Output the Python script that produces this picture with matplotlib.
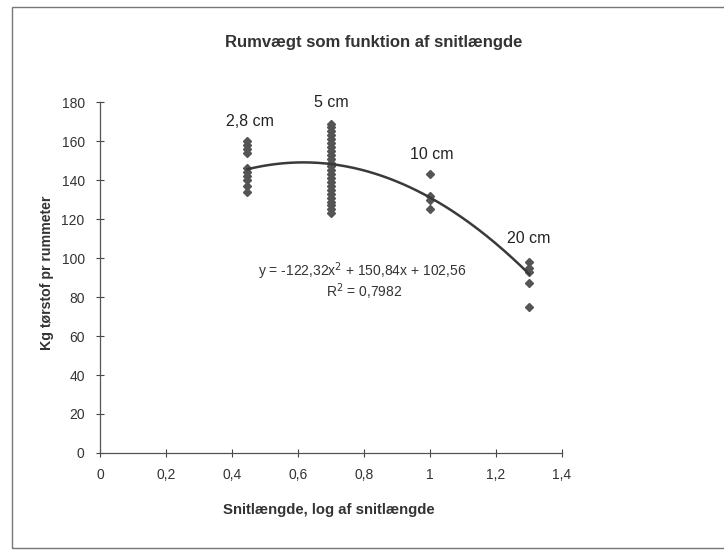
import matplotlib
matplotlib.use("Agg")
import matplotlib.pyplot as plt
import numpy as np
from matplotlib.patches import Rectangle

# log10 of cut length, one group per cut length
x_groups = [0.447, 0.699, 1.0, 1.301]
group_labels = ["2,8 cm", "5 cm", "10 cm", "20 cm"]
y_28 = [160, 158, 156, 154, 146, 144, 142, 140, 137, 134]
y_5 = [169, 167, 165, 163, 161, 159, 157, 155, 153, 151, 149, 147,
       145, 143, 141, 139, 137, 135, 133, 131, 129, 127, 125, 123]
y_10 = [143, 132, 130, 125]
y_20 = [98, 95, 93, 87, 75]
y_values = [y_28, y_5, y_10, y_20]

# trend line coefficients (a*x^2 + b*x + c) and R^2
coef = [-122.32, 150.84, 102.56]
r2 = 0.7982

label_pos = [(0.455, 170), (0.70, 180), (1.006, 153), (1.30, 110)]

plt.rcParams["font.family"] = ["Liberation Sans", "DejaVu Sans"]

fig = plt.figure(figsize=(7.24, 5.5), dpi=100)
ax = fig.add_axes([0.138, 0.1764, 0.638, 0.638])

grey = "#555555"
for x, ys in zip(x_groups, y_values):
    ax.plot([x] * len(ys), ys, linestyle="none", marker="D", markersize=4.5,
            color=grey, markeredgecolor=grey)

xs = np.linspace(x_groups[0], x_groups[-1], 200)
ax.plot(xs, np.polyval(coef, xs), color="#3a3a3a", linewidth=1.8)

for lab, (lx, ly) in zip(group_labels, label_pos):
    ax.text(lx, ly, lab, ha="center", va="center", fontsize=11.5,
            color="#222222")

eq = "y = -122,32x$^2$ + 150,84x + 102,56"
ax.text(0.796, 93, eq, ha="center", va="center", fontsize=10,
        color="#333333")
ax.text(0.80, 82.5, "R$^2$ = " + f"{r2}".replace(".", ","), ha="center",
        va="center", fontsize=10, color="#333333")

ax.set_xlim(0, 1.4)
ax.set_ylim(0, 180)
ax.set_xticks(np.arange(0, 1.41, 0.2))
ax.set_xticklabels(["0", "0,2", "0,4", "0,6", "0,8", "1", "1,2", "1,4"])
ax.set_yticks(range(0, 181, 20))
ax.tick_params(direction="inout", length=6, width=0.8, colors="#444444",
               labelsize=10, labelcolor="#333333", pad=8)
for s in ["top", "right"]:
    ax.spines[s].set_visible(False)
for s in ["left", "bottom"]:
    ax.spines[s].set_color("#555555")
    ax.spines[s].set_linewidth(0.9)

fig.text(374 / 724, 1 - 42 / 550, "Rumvægt som funktion af snitlængde",
         ha="center", va="center", fontsize=12, fontweight="bold",
         color="#333333")
fig.text(329 / 724, 1 - 510 / 550, "Snitlængde, log af snitlængde",
         ha="center", va="center", fontsize=10.7, fontweight="bold",
         color="#333333")
fig.text(47 / 724, 1 - 273 / 550, "Kg tørstof pr rummeter", rotation=90,
         ha="center", va="center", fontsize=10.2, fontweight="bold",
         color="#333333")

# outer frame
fig.patches.append(Rectangle((12 / 724, 2 / 550), 0.99, 1 - 9 / 550,
                             transform=fig.transFigure, fill=False,
                             edgecolor="#777777", linewidth=1.0))

fig.savefig("out.png", dpi=100)
